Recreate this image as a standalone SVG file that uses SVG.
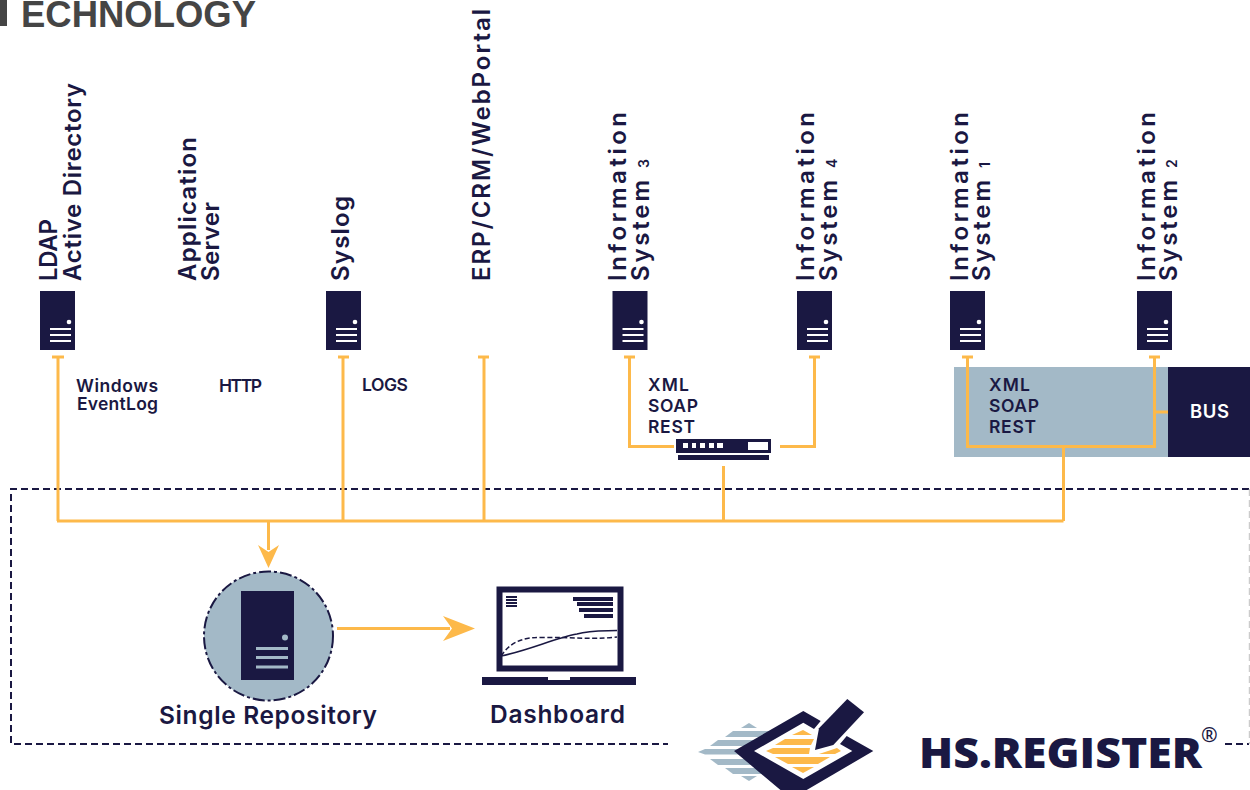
<svg xmlns="http://www.w3.org/2000/svg" width="1250" height="790" viewBox="0 0 1250 790">
<defs>
<style>
.l{font-family:"Inter","Liberation Sans",sans-serif;font-weight:600;fill:#1a1842}
.v{font-size:24px}
.sub{font-size:14px}
.s{font-size:17.500px}
.big{font-size:24.500px}
.c{fill:none;stroke:#fdb94a;stroke-width:3}
.n{fill:#1a1842}
.w{fill:#fff}
.b{fill:#a3b9c7}
.o{fill:#fdb94a}
</style>
<g id="srv">
<rect width="35" height="59" class="n"/>
<circle cx="29" cy="31" r="2.3" class="w"/>
<rect x="10" y="37" width="21" height="2" class="w"/>
<rect x="10" y="43" width="21" height="2" class="w"/>
<rect x="10" y="49" width="21" height="2" class="w"/>
</g>
</defs>
<rect width="1250" height="790" fill="#fff"/>
<g id="title">
<rect x="0" y="0" width="7" height="26" fill="#454545"/>
<text x="21" y="27" font-family="Liberation Sans, sans-serif" font-weight="700" font-size="37" fill="#454545" textLength="235" lengthAdjust="spacingAndGlyphs">ECHNOLOGY</text>
</g>
<g id="frame" fill="none" stroke="#1a1842" stroke-width="2" stroke-dasharray="7 4">
<path d="M1249 489H11V744H668"/>
<path d="M1225 744H1249"/>
<path d="M1249.500 489V744" stroke="#ccc" stroke-width="1.500"/>
</g>
<g id="bus-panel">
<rect x="954" y="367" width="214" height="90" class="b"/>
</g>
<g id="connectors">
<path class="c" d="M52 357H64M58 357V521M338 357H349M343 357V521M478 357H489M484 357V521M57 521H1063.500M723.500 466V521M1063.500 447V521"/>
<path class="c" d="M624 357H635M629.500 357V446.500H674M809 357H820M814.500 357V446.500H780"/>
<path class="c" d="M962 357H973M967.500 357V446.500H1154.500V357M1149 357H1160M1154.500 412H1168"/>
<path class="c" d="M268.500 521V550"/>
<polygon class="o" points="258,545 268.500,552 279,545 268.500,568"/>
<path class="c" d="M337 628.500H450"/>
<polygon class="o" points="443,616 475,628.500 443,641 452,628.500"/>
</g>
<g id="ldap"><use href="#srv" x="40" y="291"/>
<text class="l v" textLength="62" transform="translate(57 281) rotate(-90)">LDAP</text>
<text class="l v" textLength="198" transform="translate(80.500 281) rotate(-90)">Active Directory</text></g>
<g id="appserver">
<text class="l v" textLength="144" transform="translate(196 281) rotate(-90)">Application</text>
<text class="l v" textLength="79" transform="translate(219 281) rotate(-90)">Server</text></g>
<g id="syslog"><use href="#srv" x="326" y="291"/>
<text class="l v" textLength="85" transform="translate(349 281) rotate(-90)">Syslog</text></g>
<g id="erp">
<text class="l v" textLength="272" transform="translate(490 281) rotate(-90)">ERP/CRM/WebPortal</text></g>
<g id="is3"><use href="#srv" x="612.500" y="291"/>
<text class="l v" textLength="169" transform="translate(626 281) rotate(-90)">Information</text>
<text class="l v" textLength="101" transform="translate(649 281) rotate(-90)">System</text>
<text class="l sub" transform="translate(649 168) rotate(-90)">3</text></g>
<g id="is4"><use href="#srv" x="797" y="291"/>
<text class="l v" textLength="169" transform="translate(814 281) rotate(-90)">Information</text>
<text class="l v" textLength="101" transform="translate(836.500 281) rotate(-90)">System</text>
<text class="l sub" transform="translate(836.500 168) rotate(-90)">4</text></g>
<g id="is1"><use href="#srv" x="950" y="291"/>
<text class="l v" textLength="169" transform="translate(968 281) rotate(-90)">Information</text>
<text class="l v" textLength="101" transform="translate(990 281) rotate(-90)">System</text>
<text class="l sub" transform="translate(990 168) rotate(-90)">1</text></g>
<g id="is2"><use href="#srv" x="1137" y="291"/>
<text class="l v" textLength="169" transform="translate(1155 281) rotate(-90)">Information</text>
<text class="l v" textLength="101" transform="translate(1177 281) rotate(-90)">System</text>
<text class="l sub" transform="translate(1177 168) rotate(-90)">2</text></g>
<g id="protocols">
<text class="l s" x="76" y="392" textLength="82">Windows</text>
<text class="l s" x="77" y="410" textLength="81">EventLog</text>
<text class="l s" x="219" y="392" textLength="43">HTTP</text>
<text class="l s" x="362" y="391" textLength="46">LOGS</text>
<text class="l s" x="648" y="391" textLength="41">XML</text>
<text class="l s" x="648" y="412" textLength="50">SOAP</text>
<text class="l s" x="648" y="432.500" textLength="47">REST</text>
<text class="l s" x="989" y="391" textLength="41">XML</text>
<text class="l s" x="989" y="412" textLength="50">SOAP</text>
<text class="l s" x="989" y="432.500" textLength="47">REST</text>
</g>
<g id="bus"><rect x="1168" y="367" width="82" height="90" class="n"/>
<text x="1190" y="418" fill="#fff" font-family="Inter, Liberation Sans, sans-serif" font-weight="600" font-size="18.500" textLength="39">BUS</text></g>
<g id="switch">
<rect x="676" y="439" width="95" height="14" class="n"/>
<rect x="678" y="455" width="91" height="5" class="n"/>
<rect x="683" y="443" width="5" height="5" class="w"/><rect x="692" y="443" width="4" height="5" class="w"/><rect x="700" y="443" width="5" height="5" class="w"/><rect x="709" y="443" width="5" height="5" class="w"/><rect x="717" y="443" width="6" height="5" class="w"/>
<rect x="748" y="442" width="20" height="8" class="w"/>
</g>
<g id="repository">
<circle cx="268.500" cy="636" r="64.500" class="b" stroke="#1a1842" stroke-width="2" stroke-dasharray="12 3 3 3"/>
<rect x="241" y="591" width="53" height="89" class="n"/>
<circle cx="285" cy="637.500" r="3" class="b"/>
<rect x="256" y="647" width="32" height="3" class="b"/><rect x="256" y="656" width="32" height="3" class="b"/><rect x="256" y="665.500" width="32" height="3" class="b"/>
<text class="l big" x="159" y="724" textLength="218">Single Repository</text>
</g>
<g id="dashboard">
<rect x="499.500" y="589.500" width="121" height="79" fill="#fff" stroke="#1a1842" stroke-width="6"/>
<path class="n" d="M482 677H548V680H570V677H636V685H482Z"/>
<g class="n">
<rect x="506" y="596" width="11" height="2"/><rect x="506" y="599" width="11" height="2"/><rect x="506" y="602" width="11" height="2"/><rect x="506" y="605" width="11" height="2"/>
<rect x="573" y="597" width="40" height="4"/><rect x="577" y="602" width="36" height="4"/><rect x="579" y="608" width="34" height="4"/><rect x="584" y="614" width="29" height="4"/>
</g>
<path d="M501 656C530 650 555 638 577 634C590 630 605 631 617 630.500" fill="none" stroke="#1a1842" stroke-width="1.500"/>
<path d="M501 656C512 640 525 637 545 637.500C570 637 590 640 617 637" fill="none" stroke="#1a1842" stroke-width="1.500" stroke-dasharray="5 2.500"/>
<text class="l big" x="490" y="723" textLength="135">Dashboard</text>
</g>
<g id="logo">
<g class="b">
<polygon points="749,723 757,728 741,728"/>
<polygon points="733,731 770,731 770,737 725,737"/>
<polygon points="718,740 758,740 758,746 710,746"/>
<polygon points="705,749 745,749 745,754.500 705,754.500 698,752"/>
<polygon points="710,759 758,759 758,765 718,765"/>
<polygon points="725,768 770,768 770,774 733,774"/>
<polygon points="741,776 757,776 749,781"/>
</g>
<path class="n" d="M734 751L803.300 711L820.700 721L814 729L803.300 722.700L754 751L803.300 779L852.300 751L840 744L846.700 736L873.300 751L803.300 792L790 798Z"/>
<g class="o">
<polygon points="803,730 812,735 792,735"/>
<polygon points="785,739 814,739 811,745 775,745"/>
<polygon points="773,748 810,748 809,754 773,754 766,751"/>
<polygon points="819,754 837,748 841,751 835,754"/>
<polygon points="775,757 830,757 818,764 788,764"/>
<polygon points="792,767 814,767 803,773"/>
</g>
<path class="n" d="M819 728.300L847.300 699L864 712.300L833.300 745L815 750Z" stroke="#fff" stroke-width="2" paint-order="stroke"/>
<text x="919" y="768" font-family="Open Sans, Noto Sans, sans-serif" font-weight="800" font-size="43" fill="#1a1842" textLength="283" lengthAdjust="spacingAndGlyphs">HS.REGISTER</text>
<text x="1201" y="742" font-family="Open Sans, sans-serif" font-weight="600" font-size="20" fill="#1a1842">®</text>
</g>
</svg>
